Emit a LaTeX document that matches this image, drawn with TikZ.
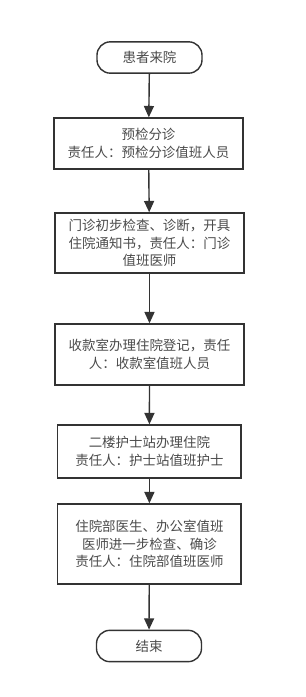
\documentclass[tikz,border=0pt]{standalone}
\usepackage{fontspec}
\setmainfont{Noto Sans CJK SC}
\usetikzlibrary{arrows.meta, positioning}
\definecolor{cline}{HTML}{333333}
\definecolor{ctext}{HTML}{4A4A4A}
\tikzset{
  every picture/.style={line width=1.2pt},
  term/.style={draw=cline, rounded corners=0.4cm, minimum width=3.15cm, minimum height=0.94cm, text=ctext, align=center, inner sep=0pt},
  stepbox/.style={draw=cline, minimum width=5.67cm, align=center, text=ctext, inner sep=0pt},
  arrow/.style={-{Triangle[length=3.4mm, width=3mm]}, draw=cline, line width=1.2pt},
}

\begin{document}
\begin{tikzpicture}[x=0.03cm, y=-0.03cm, every node/.append style={font=\fontsize{11.5}{14.8}\selectfont}]
  \useasboundingbox (0,0) rectangle (305,697);

  % flow
  \node[term] (start) at (149.5,57.5) {患者来院};
  \node[stepbox, minimum height=1.53cm] (pre) at (148.5,143.5) {预检分诊\\责任人：预检分诊值班人员};
  \node[stepbox, minimum height=1.8cm] (clinic) at (149.5,243) {门诊初步检查、诊断，开具\\住院通知书，责任人：门诊\\值班医师};
  \node[stepbox, minimum height=1.83cm] (pay) at (149.5,354.5) {收款室办理住院登记，责任\\人：收款室值班人员};
  \node[stepbox, minimum width=5.5cm, minimum height=1.59cm] (nurse) at (149.4,451.5) {二楼护士站办理住院\\责任人：护士站值班护士};
  \node[stepbox, minimum width=5.5cm, minimum height=2.4cm] (ward) at (149.4,544) {住院部医生、办公室值班\\医师进一步检查、确诊\\责任人：住院部值班医师};
  \node[term] (finish) at (149,646) {结束};

  \foreach \a/\b in {start/pre, pre/clinic, clinic/pay, pay/nurse, nurse/ward, ward/finish}
    \draw[arrow] (\a) -- (\b);
\end{tikzpicture}
\end{document}
